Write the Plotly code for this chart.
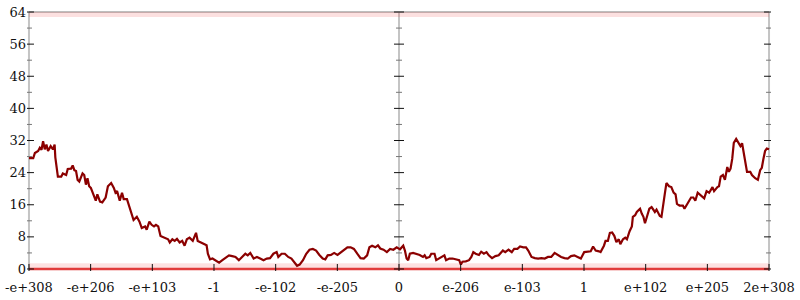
import plotly.graph_objects as go

# ---------------- data ----------------
x_tick_labels = ["-e+308", "-e+206", "-e+103", "-1", "-e-102", "-e-205", "0",
                 "e-206", "e-103", "1", "e+102", "e+205", "2e+308"]
x_tick_pos = [0, 62.5, 125, 187.5, 250, 312.5, 375, 437.5, 500, 562.5, 625, 687.5, 750]
y_major = [0, 8, 16, 24, 32, 40, 48, 56, 64]
y_minor = [4, 12, 20, 28, 36, 44, 52, 60]

line_x = [
    0, 4.3, 6, 9.3, 11, 12.7, 14.3, 16, 17.7, 19.3,
    22, 24.3, 26, 26.7, 29.3, 32.7, 34.3, 37.7, 39.3, 42.7,
    44.3, 46, 47.7, 49.3, 51, 54.3, 56, 57.7, 59.3, 61,
    62.7, 66, 67.7, 69.3, 72, 74.3, 77.7, 80, 82, 83.3,
    86, 87.7, 89.3, 92, 94.3, 96, 99.3, 102.7, 106, 109.3,
    112, 114.3, 117.7, 119.3, 122, 124.3, 126.7, 128.7, 131, 133.3,
    137.7, 141, 142.7, 145.3, 147.7, 150, 152.7, 155.3, 157.7, 160,
    162.7, 166, 169.3, 171, 174.3, 177.7, 180, 181.3, 183.5,
    186, 189.3, 192.7, 196, 199.3, 202.7, 206, 209.3, 212.7, 216,
    219.3, 221.7, 224.3, 227.7, 231, 234.3, 237.7, 241, 244.3, 247.7,
    251, 252.7, 256, 259.3, 262.7, 266, 269.3, 271.7, 274.3, 277.7,
    281, 284.3, 287.7, 291, 294.3, 297.7, 300.3, 302.7, 306, 309.3,
    312.7, 316, 319.3, 322.7, 326, 329.3, 332.7, 336, 339.3, 342.7,
    345, 347.7, 351, 353.7, 356, 359.3, 362.7, 366, 369.3, 372.7,
    376, 379.3, 381, 382.7, 384.3, 386, 389.3, 392.7, 396, 399.3,
    401, 402.7, 406, 407.7, 411, 412.7, 416, 419.3, 421, 422.7,
    426, 429.3, 432.7, 436, 437.7, 439.3, 442.7, 446, 448.3, 450.3,
    452.7, 456, 458.3, 461, 463.7, 466, 469.3, 472.7, 476, 477.7,
    480.3, 482.7, 486, 489.3, 491.7, 495, 497.7, 501, 503.7, 506,
    509.3, 512.7, 516, 519.3, 522.7, 526, 529.3, 532.7, 536, 539.3,
    542.7, 546, 549.3, 552.7, 556, 559.3, 562.7, 566, 569.3, 571.7,
    574.3, 577.7, 579.3, 582.7, 584.3, 586.7, 588.7, 591, 593.3, 595.3,
    597.7, 599.3, 602, 604.3, 606, 608.7, 611, 612, 614.3, 616,
    619.3, 621, 622.7, 624.3, 626, 628.7, 631, 632.7, 634.3, 636,
    639.3, 641, 642.7, 644.3, 646, 648.7, 651, 653.3, 655.3, 656.7,
    659.3, 662.7, 664.3, 667.7, 671, 673.3, 675.3, 677.7, 681, 684.3,
    686.7, 689.3, 692.7, 694.3, 697.7, 699.3, 701, 703.3, 705.3, 707.7,
    709.3, 711, 712.7, 714.3, 716.7, 718.7, 721, 722.7, 724.3, 726,
    727.7, 731, 732.7, 736, 738.7, 741, 742.7, 744.3, 746, 747.7,
    750,
]
line_y = [
    27.6, 27.6, 28.9, 29.4, 30.2, 29.7, 31.8, 29.8, 31.0, 29.4,
    30.6, 29.8, 31.0, 27.8, 23.0, 23.0, 23.8, 23.4, 24.9, 25.0,
    25.8, 24.6, 24.4, 22.2, 21.8, 23.8, 23.4, 21.0, 22.6, 20.6,
    20.2, 17.8, 17.0, 18.6, 16.8, 16.6, 17.8, 20.6, 21.0, 21.4,
    20.2, 19.0, 19.4, 17.0, 19.0, 17.4, 17.4, 15.0, 12.2, 13.0,
    11.8, 10.2, 10.6, 9.8, 11.8, 11.0, 10.6, 11.0, 10.6, 8.2,
    7.8, 7.4, 6.6, 7.4, 7.0, 7.5, 6.6, 7.0, 5.8, 7.4,
    7.8, 7.0, 9.0, 7.0, 6.6, 6.2, 5.9, 3.8, 2.4,
    2.6, 2.0, 1.6, 2.2, 2.7, 3.4, 3.2, 3.0, 2.2, 3.0,
    3.8, 3.4, 4.0, 2.6, 3.0, 2.6, 2.2, 2.6, 2.7, 3.8,
    4.2, 3.0, 3.8, 3.8, 3.0, 2.6, 1.6, 0.8, 1.1, 2.2,
    3.8, 4.8, 5.0, 4.6, 3.5, 2.6, 2.4, 3.4, 3.5, 4.0,
    3.5, 4.2, 4.8, 5.4, 5.4, 5.0, 3.8, 2.7, 2.6, 3.4,
    5.4, 5.8, 5.4, 5.9, 5.1, 4.8, 4.2, 5.0, 4.8, 5.4,
    4.9, 5.8, 4.6, 2.6, 2.2, 3.8, 4.0, 3.8, 3.5, 3.0,
    3.4, 2.7, 3.0, 3.8, 3.8, 2.2, 2.6, 3.0, 3.4, 2.2,
    2.6, 2.6, 2.4, 2.2, 1.1, 1.8, 1.9, 2.2, 3.0, 4.2,
    3.8, 3.5, 4.3, 3.8, 4.2, 3.4, 2.7, 3.2, 3.4, 3.8,
    4.6, 4.2, 4.8, 4.2, 5.0, 5.0, 5.6, 5.4, 5.4, 4.6,
    3.0, 2.7, 2.6, 2.7, 2.6, 3.0, 3.0, 4.0, 3.4, 3.0,
    2.7, 2.6, 3.2, 3.4, 3.0, 2.6, 4.2, 4.3, 4.4, 5.6,
    4.6, 4.4, 4.2, 5.8, 7.0, 7.0, 9.0, 9.1, 8.2, 6.7,
    7.4, 6.2, 7.4, 7.8, 7.4, 9.4, 10.6, 13.0, 13.4, 14.2,
    15.0, 13.8, 13.0, 11.4, 13.0, 15.0, 15.4, 14.8, 14.2, 14.8,
    13.2, 13.0, 15.4, 18.6, 21.4, 20.6, 20.4, 19.0, 18.6, 16.2,
    15.8, 15.8, 15.0, 16.6, 17.8, 17.8, 17.0, 19.0, 18.2, 17.6,
    19.4, 19.0, 20.4, 19.4, 20.4, 20.6, 23.0, 23.4, 22.2, 25.4,
    24.2, 25.0, 27.4, 31.4, 32.4, 31.4, 30.6, 31.3, 29.0, 25.8,
    24.2, 24.2, 23.4, 22.6, 22.2, 24.6, 25.2, 27.4, 29.4, 30.0,
    29.8,
]
assert len(line_x) == len(line_y), (len(line_x), len(line_y))

# extreme-value point clouds at floor / ceiling
band_x = [0, 750]
floor_y = [0, 0]
floor_haze_y = [0.7, 0.7]
ceil_haze_y = [63.4, 63.4]

# ---------------- figure ----------------
FONT = "DejaVu Serif, serif"
AXIS_GRAY = "#c4c4c4"

fig = go.Figure()
fig.add_trace(go.Scatter(x=band_x, y=floor_haze_y, mode="lines",
                         line=dict(color="rgba(240,70,70,0.16)", width=6),
                         hoverinfo="skip", showlegend=False))
fig.add_trace(go.Scatter(x=band_x, y=ceil_haze_y, mode="lines",
                         line=dict(color="rgba(240,70,70,0.17)", width=5),
                         hoverinfo="skip", showlegend=False))
fig.add_trace(go.Scatter(x=band_x, y=floor_y, mode="lines",
                         line=dict(color="rgba(222,40,40,0.9)", width=2.5),
                         hoverinfo="skip", showlegend=False))
fig.add_trace(go.Scatter(x=line_x, y=line_y, mode="lines",
                         line=dict(color="#8b0000", width=2.2),
                         showlegend=False))

shapes = []
# axis lines (left, centre, right) and top line
for xv in (x_tick_pos[0], x_tick_pos[6], x_tick_pos[-1]):
    shapes.append(dict(type="line", xref="x", yref="y", x0=xv, x1=xv,
                       y0=y_major[0], y1=y_major[-1], layer="below",
                       line=dict(color=AXIS_GRAY, width=2)))
shapes.append(dict(type="line", xref="x", yref="y", x0=x_tick_pos[0], x1=x_tick_pos[-1],
                   y0=y_major[-1], y1=y_major[-1], layer="below",
                   line=dict(color="#a8a8a8", width=1.5)))
# y ticks crossing each vertical axis
for xv in (x_tick_pos[0], x_tick_pos[6], x_tick_pos[-1]):
    for yv in y_major:
        shapes.append(dict(type="line", xref="x", yref="y", xsizemode="pixel",
                           xanchor=xv, x0=-5, x1=5, y0=yv, y1=yv,
                           line=dict(color="#111", width=1)))
    for yv in y_minor:
        shapes.append(dict(type="line", xref="x", yref="y", xsizemode="pixel",
                           xanchor=xv, x0=-3, x1=3, y0=yv, y1=yv,
                           line=dict(color="#777", width=1)))
# x ticks crossing the bottom axis
for xv in x_tick_pos:
    shapes.append(dict(type="line", xref="x", yref="y", ysizemode="pixel",
                       yanchor=0, y0=-5, y1=5, x0=xv, x1=xv,
                       line=dict(color="#111", width=1)))

fig.update_layout(
    width=800, height=300,
    margin=dict(l=22, r=24, t=5, b=24, pad=0),
    paper_bgcolor="white", plot_bgcolor="white",
    showlegend=False,
    shapes=shapes,
    font=dict(family=FONT, size=13, color="#111"),
    xaxis=dict(range=[-2, 752], tickvals=x_tick_pos, ticktext=x_tick_labels,
               ticks="", showgrid=False, zeroline=False, showline=False,
               ticklabelstandoff=7, ticklabeloverflow="allow",
               tickfont=dict(family=FONT, size=13, color="#111"), fixedrange=True),
    yaxis=dict(range=[-0.5, 64.5], tickvals=y_major, ticks="",
               showgrid=False, zeroline=False, showline=False,
               ticklabeloverflow="allow",
               tickfont=dict(family=FONT, size=13, color="#111"), fixedrange=True),
)

fig.write_html("out.html")
